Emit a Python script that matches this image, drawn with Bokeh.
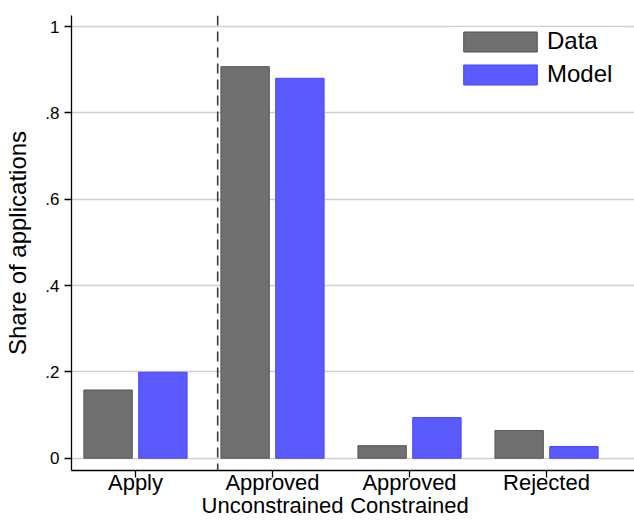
from bokeh.plotting import figure
from bokeh.models import Range1d, FixedTicker, CustomJSTickFormatter, Span, Legend, LegendItem
from bokeh.embed import file_html
from bokeh.resources import INLINE

# ---- data ----
categories = ["Apply", "Approved\nUnconstrained", "Approved\nConstrained", "Rejected"]
data_vals = [0.158, 0.907, 0.029, 0.064]
model_vals = [0.199, 0.880, 0.094, 0.027]
y_ticks = [0, 0.2, 0.4, 0.6, 0.8, 1.0]

FONT = "Liberation Sans"

positions = list(range(1, len(categories) + 1))
offset = 0.2
bar_w = 0.353
data_x = [p - offset for p in positions]
model_x = [p + offset for p in positions]

p = figure(width=634, height=525, output_backend="svg", toolbar_location=None,
           x_range=Range1d(0.533, 4.642), y_range=Range1d(-0.0285, 1.0255),
           min_border_left=71, min_border_right=0, min_border_top=15, min_border_bottom=55)
p.outline_line_color = None
p.background_fill_color = "white"
p.border_fill_color = "white"

# grid
p.xgrid.grid_line_color = None
p.ygrid.ticker = FixedTicker(ticks=y_ticks)
p.ygrid.grid_line_color = "#cfcfcf"
p.ygrid.grid_line_width = 1.5

r_data = p.vbar(x=data_x, top=data_vals, bottom=0, width=bar_w,
                fill_color="#707070", line_color="#555555", line_width=1)
r_model = p.vbar(x=model_x, top=model_vals, bottom=0, width=bar_w,
                 fill_color="#5a5aff", line_color="#4343ff", line_width=1)

# dashed separator
p.add_layout(Span(location=1.6, dimension="height", line_color="#3a3a3a",
                  line_width=1.6, line_dash="10 6"))

# x axis
xa = p.xaxis[0]
xa.ticker = FixedTicker(ticks=positions)
xa.major_label_overrides = {pos: lab for pos, lab in zip(positions, categories)}
xa.major_label_text_font = FONT
xa.major_label_text_font_size = "22px"
xa.major_label_text_color = "black"
xa.major_label_text_line_height = 0.92
xa.major_label_standoff = -8
xa.major_tick_out = 7
xa.major_tick_in = 0
xa.minor_tick_line_color = None
xa.axis_line_color = "black"
xa.axis_line_width = 1.3
xa.major_tick_line_color = "black"
xa.major_tick_line_width = 1.3

# y axis
ya = p.yaxis[0]
ya.ticker = FixedTicker(ticks=y_ticks)
ya.formatter = CustomJSTickFormatter(code="""
if (Math.abs(tick) < 1e-9) return "0";
if (Math.abs(tick - 1) < 1e-9) return "1";
return tick.toFixed(1).replace("0.", ".");
""")
ya.axis_label = "Share of applications"
ya.axis_label_text_font = FONT
ya.axis_label_text_font_size = "24px"
ya.axis_label_text_font_style = "normal"
ya.axis_label_text_color = "black"
ya.axis_label_standoff = 11
ya.major_label_text_font = FONT
ya.major_label_text_font_size = "17px"
ya.major_label_text_color = "black"
ya.major_label_standoff = 5
ya.major_label_orientation = "horizontal"
ya.major_tick_out = 7
ya.major_tick_in = 0
ya.minor_tick_line_color = None
ya.axis_line_color = "black"
ya.axis_line_width = 1.3
ya.major_tick_line_color = "black"
ya.major_tick_line_width = 1.3

legend = Legend(items=[LegendItem(label="Data", renderers=[r_data]),
                       LegendItem(label="Model", renderers=[r_model])],
                location="top_right")
legend.label_text_font = FONT
legend.label_text_font_size = "24px"
legend.label_text_color = "black"
legend.glyph_width = 92
legend.glyph_height = 25
legend.label_height = 25
legend.label_width = 75
legend.label_standoff = 1
legend.spacing = 5
legend.padding = 5
legend.margin = 12
legend.border_line_color = None
legend.background_fill_color = "white"
legend.background_fill_alpha = 1.0
p.add_layout(legend, "center")

open("out.html", "w").write(file_html(p, INLINE))
